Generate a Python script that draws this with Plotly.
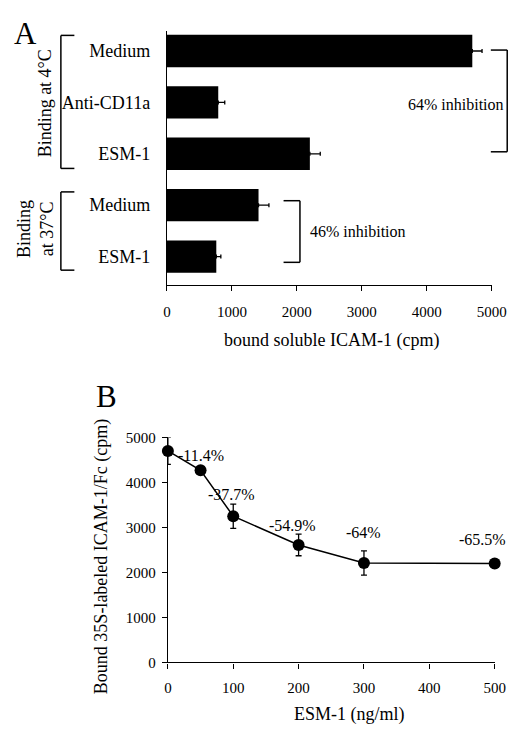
import plotly.graph_objects as go

# ---------------- data ----------------
# Panel A
bar_labels = ["Medium", "Anti-CD11a", "ESM-1", "Medium", "ESM-1"]
bar_values = [4700, 790, 2200, 1410, 760]
bar_errors = [150, 100, 160, 160, 70]
a_ticks = [0, 1000, 2000, 3000, 4000, 5000]

# Panel B
esm_conc = [0, 50, 100, 200, 300, 500]
bound_cpm = [4700, 4270, 3250, 2610, 2210, 2200]
bound_err = [300, 0, 270, 240, 270, 0]
pct_conc = [50, 100, 200, 300, 500]
pct_labels = ["-11.4%", "-37.7%", "-54.9%", "-64%", "-65.5%"]
b_xticks = [0, 100, 200, 300, 400, 500]
b_yticks = [0, 1000, 2000, 3000, 4000, 5000]

# ---------------- layout helpers ----------------
W, H = 528, 734
FONT = "Liberation Serif"


def px(x):
    return x / W


def py(y):
    return 1 - y / H


fig = go.Figure()

positions = list(range(len(bar_labels)))
fig.add_trace(go.Bar(
    x=bar_values, y=positions, orientation="h",
    marker=dict(color="black", line=dict(width=0)),
    width=0.63,
    error_x=dict(type="data", array=bar_errors, arrayminus=[0] * len(bar_errors),
                 symmetric=False, color="black", thickness=1.3, width=2),
    xaxis="x", yaxis="y", showlegend=False,
))

fig.add_trace(go.Scatter(
    x=esm_conc, y=bound_cpm, mode="lines+markers",
    line=dict(color="black", width=1.5),
    marker=dict(color="black", size=12),
    error_y=dict(type="data", array=bound_err, symmetric=True,
                 color="black", thickness=1.3, width=3),
    cliponaxis=False,
    xaxis="x2", yaxis="y2", showlegend=False,
))

axis_common = dict(showgrid=False, zeroline=False, showline=True, linecolor="black",
                   linewidth=1.3, ticks="outside", tickcolor="black", ticklen=5,
                   tickfont=dict(family=FONT, size=15, color="black"))

fig.update_layout(
    width=W, height=H, autosize=False,
    margin=dict(l=0, r=0, t=0, b=0),
    paper_bgcolor="white", plot_bgcolor="white",
    font=dict(family=FONT, color="black"),
    xaxis=dict(domain=[px(169), px(506)], range=[0, 5000], tickvals=a_ticks,
               anchor="y", ticklabelstandoff=8, **axis_common),
    yaxis=dict(domain=[py(283), py(24)], range=[4.55, -0.38],
               tickvals=positions, ticktext=bar_labels, anchor="x",
               showgrid=False, zeroline=False, showline=True, linecolor="black",
               linewidth=1.3, ticks="", ticklabelstandoff=12,
               tickfont=dict(family=FONT, size=18, color="black")),
    xaxis2=dict(domain=[px(170), px(509)], range=[0, 500], tickvals=b_xticks,
                anchor="y2", ticklabelstandoff=6, **axis_common),
    yaxis2=dict(domain=[py(669), py(439)], range=[0, 5000], tickvals=b_yticks,
                anchor="x2", ticklabelstandoff=3, **axis_common),
)

ann = []
ann.append(dict(x=px(22), y=py(26), text="A", font=dict(size=31)))
ann.append(dict(x=px(106), y=py(397), text="B", font=dict(size=31)))
ann.append(dict(x=px(340), y=py(340), text="bound soluble ICAM-1 (cpm)", font=dict(size=18)))
ann.append(dict(x=px(358), y=py(722), text="ESM-1 (ng/ml)", font=dict(size=18)))
ann.append(dict(x=px(101), y=py(561), text="Bound 35S-labeled ICAM-1/Fc (cpm)",
                textangle=-90, font=dict(size=18)))
ann.append(dict(x=px(42), y=py(97), text="Binding at 4°C", textangle=-90, font=dict(size=18)))
ann.append(dict(x=px(32), y=py(226), text="Binding<br>at 37°C", textangle=-90, font=dict(size=18)))
ann.append(dict(x=px(417), y=py(99), text="64% inhibition", xanchor="left", font=dict(size=16)))
ann.append(dict(x=px(315), y=py(228), text="46% inhibition", xanchor="left", font=dict(size=16)))

for a in ann:
    a.setdefault("xref", "paper")
    a.setdefault("yref", "paper")
    a.setdefault("showarrow", False)
    a.setdefault("xanchor", "center")
    a.setdefault("yanchor", "middle")
    a["font"] = dict(family=FONT, color="black", **a["font"])
    fig.add_annotation(**a)

shifts = [(0, 15), (-2, 22), (-6, 19), (0, 30), (-12, 24)]
for xv, lab, (dx, dy) in zip(pct_conc, pct_labels, shifts):
    yv = bound_cpm[esm_conc.index(xv)]
    fig.add_annotation(x=xv, y=yv, xref="x2", yref="y2", text=lab, showarrow=False,
                       xshift=dx, yshift=dy, font=dict(family=FONT, size=16, color="black"))


def bracket(x_open, x_close, y_top, y_bot):
    for seg in [(x_open, y_top, x_close, y_top), (x_close, y_top, x_close, y_bot),
                (x_open, y_bot, x_close, y_bot)]:
        fig.add_shape(type="line", xref="paper", yref="paper",
                      x0=px(seg[0]), y0=py(seg[1]), x1=px(seg[2]), y1=py(seg[3]),
                      line=dict(color="black", width=1.5))


bracket(73, 59, 28, 164)
bracket(73, 59, 188, 268)
bracket(505, 522, 43, 147)
bracket(290, 307, 197, 260)

post = (
    "document.documentElement.style.margin='0';"
    "document.documentElement.style.overflow='hidden';"
    "document.body.style.margin='0';document.body.style.overflow='hidden';"
    "var gd=document.getElementById('{plot_id}');"
    "gd.style.width='528px';gd.style.height='734px';"
    "function fix(){if(gd._fullLayout&&(gd._fullLayout.width!==528||gd._fullLayout.height!==734)){"
    "Plotly.relayout(gd,{width:528,height:734,autosize:false});}}"
    "fix();setTimeout(fix,30);setTimeout(fix,150);setTimeout(fix,400);"
    "window.addEventListener('resize',function(){setTimeout(fix,0);});"
)
fig.write_html("out.html", config={"displayModeBar": False, "responsive": False},
               post_script=post)
